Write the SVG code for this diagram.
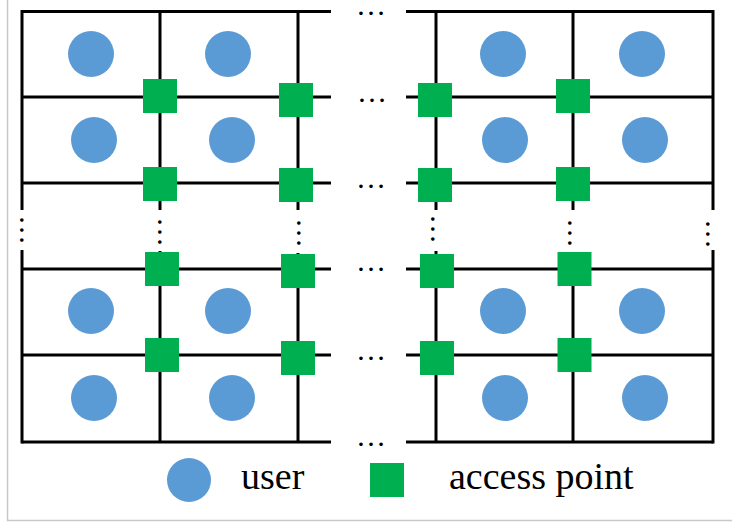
<svg xmlns="http://www.w3.org/2000/svg" width="732" height="525" viewBox="0 0 732 525">
<style>
.u{fill:#5B9BD5}
.ap{fill:#00B050}
.ln{stroke:#000;stroke-width:3;fill:none}
.fr{stroke:#C8C8C8;stroke-width:1.5;fill:none}
.dots{font-family:"Liberation Serif","Times New Roman",serif;font-size:30px;fill:#000}
.lg{font-family:"Liberation Serif","Times New Roman",serif;font-size:38px;fill:#000}
</style>
<rect x="0" y="0" width="732" height="525" fill="#fff"/>
<path class="fr" d="M7.5 0V520.5H732"/>
<g id="connectors" class="ln">
<path d="M22 11.5H331M22 97H331M22 183H331M22 269H331M22 355H331M22 442H331"/>
<path d="M406 11.5H713M406 97H713M406 183H713M406 269H713M406 355H713M406 442H713"/>
<path d="M22 10V210M22 250V443.5M160 11.5V210M160 251V442M298 11.5V210M298 253V442"/>
<path d="M436 11.5V210M436 251V442M573 11.5V210M573 252V442M713 10V210M713 250V443.5"/>
</g>
<g id="ellipses" class="dots">
<text x="356" y="14.5">…</text>
<text x="357" y="101.5">…</text>
<text x="356" y="187.5">…</text>
<text x="356" y="270.5">…</text>
<text x="356" y="359.5">…</text>
<text x="356" y="445.5">…</text>
<text transform="translate(19.5 215) rotate(90)">…</text>
<text transform="translate(158 217) rotate(90)">…</text>
<text transform="translate(297 218) rotate(90)">…</text>
<text transform="translate(430.5 214) rotate(90)">…</text>
<text transform="translate(567.5 218) rotate(90)">…</text>
<text transform="translate(705.5 219) rotate(90)">…</text>
</g>
<g id="users" class="u">
<circle id="user-1-1" cx="91" cy="54" r="23"/>
<circle id="user-1-2" cx="228" cy="54" r="23"/>
<circle id="user-1-3" cx="503" cy="54" r="23"/>
<circle id="user-1-4" cx="642" cy="54" r="23"/>
<circle id="user-2-1" cx="94" cy="140" r="23"/>
<circle id="user-2-2" cx="232" cy="140" r="23"/>
<circle id="user-2-3" cx="505" cy="140" r="23"/>
<circle id="user-2-4" cx="645" cy="140" r="23"/>
<circle id="user-3-1" cx="91" cy="311" r="23"/>
<circle id="user-3-2" cx="228" cy="311" r="23"/>
<circle id="user-3-3" cx="503" cy="311" r="23"/>
<circle id="user-3-4" cx="642" cy="311" r="23"/>
<circle id="user-4-1" cx="94" cy="398" r="23"/>
<circle id="user-4-2" cx="232" cy="398" r="23"/>
<circle id="user-4-3" cx="505" cy="398" r="23"/>
<circle id="user-4-4" cx="645" cy="398" r="23"/>
</g>
<g id="access-points" class="ap">
<rect id="ap-1-1" x="143" y="79" width="34" height="34"/>
<rect id="ap-1-2" x="279" y="83" width="34" height="34"/>
<rect id="ap-1-3" x="418" y="83" width="34" height="34"/>
<rect id="ap-1-4" x="556" y="79" width="34" height="34"/>
<rect id="ap-2-1" x="143" y="167" width="34" height="34"/>
<rect id="ap-2-2" x="279" y="168" width="34" height="34"/>
<rect id="ap-2-3" x="418" y="168" width="34" height="34"/>
<rect id="ap-2-4" x="556" y="167" width="34" height="34"/>
<rect id="ap-3-1" x="145" y="252" width="34" height="34"/>
<rect id="ap-3-2" x="281" y="254" width="34" height="34"/>
<rect id="ap-3-3" x="420" y="254" width="34" height="34"/>
<rect id="ap-3-4" x="557.5" y="252" width="34" height="34"/>
<rect id="ap-4-1" x="145" y="338" width="34" height="34"/>
<rect id="ap-4-2" x="281" y="341" width="34" height="34"/>
<rect id="ap-4-3" x="420" y="341" width="34" height="34"/>
<rect id="ap-4-4" x="557.5" y="338" width="34" height="34"/>
</g>
<g id="legend">
<g id="legend-user">
<circle class="u" cx="189" cy="480" r="22"/>
<text class="lg" x="241" y="489">user</text>
</g>
<g id="legend-ap">
<rect class="ap" x="370" y="463" width="34" height="34"/>
<text class="lg" x="449" y="489">access point</text>
</g>
</g>
</svg>
